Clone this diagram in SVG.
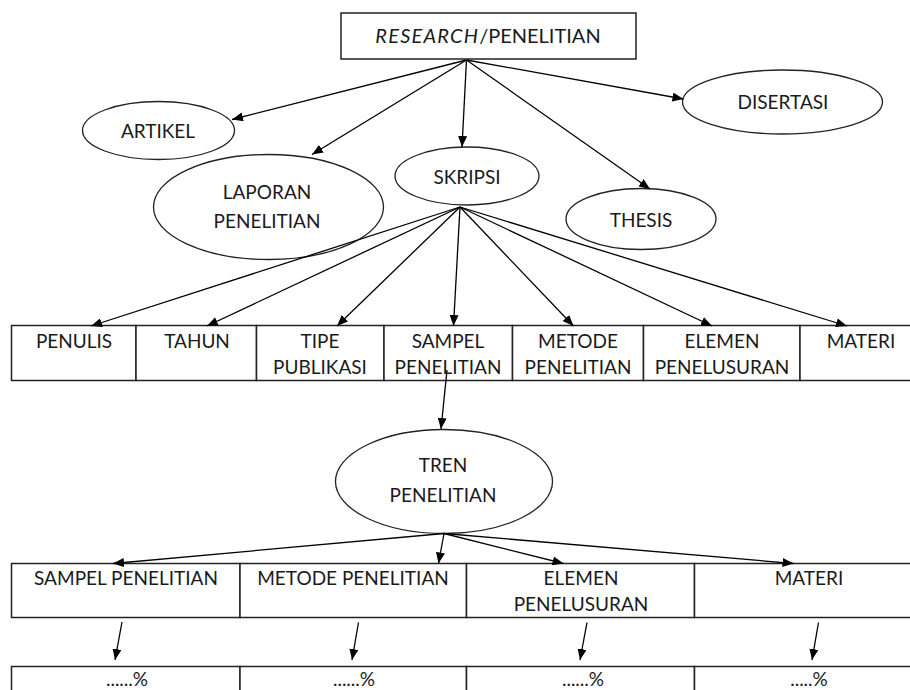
<svg xmlns="http://www.w3.org/2000/svg" width="910" height="690" viewBox="0 0 910 690">
<defs>
<marker id="ah" markerUnits="userSpaceOnUse" markerWidth="11" markerHeight="9" refX="11" refY="4.5" orient="auto">
<path d="M0,0 L11,4.5 L0,9 z" fill="#000"/>
</marker>
<style>
.box{fill:#fff;stroke:#222;stroke-width:1.5}
.ell{fill:#fff;stroke:#222;stroke-width:1.3}
.t{font-family:Lato,"Liberation Sans",sans-serif;font-size:19px;fill:#1a1a1a;text-anchor:middle}
.c line{stroke:#000;stroke-width:1.3;marker-end:url(#ah)}
</style>
</defs>
<rect width="910" height="690" fill="#fff"/>

<g id="research">
<rect class="box" x="341" y="13" width="295" height="46"/>
<text class="t" x="488" y="43" style="font-size:20px"><tspan font-style="italic" letter-spacing="1.2">RESEARCH</tspan>/PENELITIAN</text>
</g>
<g id="artikel">
<ellipse class="ell" cx="158.5" cy="130.5" rx="76" ry="29"/>
<text class="t" x="158" y="138">ARTIKEL</text>
</g>
<g id="laporan">
<ellipse class="ell" cx="268.5" cy="207" rx="115" ry="52.5"/>
<text class="t" x="267" y="199">LAPORAN</text>
<text class="t" x="267" y="228">PENELITIAN</text>
</g>
<g id="skripsi">
<ellipse class="ell" cx="467" cy="176" rx="72" ry="29"/>
<text class="t" x="467" y="184">SKRIPSI</text>
</g>
<g id="disertasi">
<ellipse class="ell" cx="782.5" cy="102" rx="100" ry="32"/>
<text class="t" x="783" y="109">DISERTASI</text>
</g>
<g id="thesis">
<ellipse class="ell" cx="641" cy="219" rx="75" ry="30.5"/>
<text class="t" x="641" y="227">THESIS</text>
</g>

<g id="penulis"><rect class="box" x="11.5" y="325.5" width="124.5" height="55"/><text class="t" x="74" y="348">PENULIS</text></g>
<g id="tahun"><rect class="box" x="136" y="325.5" width="120.5" height="55"/><text class="t" x="197" y="348">TAHUN</text></g>
<g id="tipe"><rect class="box" x="256.5" y="325.5" width="127.5" height="55"/><text class="t" x="320" y="348">TIPE</text><text class="t" x="320" y="374">PUBLIKASI</text></g>
<g id="sampel1"><rect class="box" x="384" y="325.5" width="128.5" height="55"/><text class="t" x="448" y="348">SAMPEL</text><text class="t" x="448" y="374">PENELITIAN</text></g>
<g id="metode1"><rect class="box" x="512.5" y="325.5" width="131" height="55"/><text class="t" x="578" y="348">METODE</text><text class="t" x="578" y="374">PENELITIAN</text></g>
<g id="elemen1"><rect class="box" x="643.5" y="325.5" width="156.5" height="55"/><text class="t" x="722" y="348">ELEMEN</text><text class="t" x="722" y="374">PENELUSURAN</text></g>
<g id="materi1"><rect class="box" x="800" y="325.5" width="122" height="55"/><text class="t" x="861" y="348">MATERI</text></g>

<g id="tren">
<ellipse class="ell" cx="444" cy="481.5" rx="108.5" ry="52"/>
<text class="t" x="443" y="472">TREN</text>
<text class="t" x="443" y="502">PENELITIAN</text>
</g>

<g id="sampel2"><rect class="box" x="11.5" y="563.5" width="228.5" height="54"/><text class="t" x="126" y="585">SAMPEL PENELITIAN</text></g>
<g id="metode2"><rect class="box" x="240" y="563.5" width="226.5" height="54"/><text class="t" x="353" y="585">METODE PENELITIAN</text></g>
<g id="elemen2"><rect class="box" x="466.5" y="563.5" width="228" height="54"/><text class="t" x="581" y="585">ELEMEN</text><text class="t" x="581" y="611">PENELUSURAN</text></g>
<g id="materi2"><rect class="box" x="694.5" y="563.5" width="229" height="54"/><text class="t" x="809" y="585">MATERI</text></g>

<g id="pct1"><rect class="box" x="11.5" y="666.5" width="228.5" height="50"/><text class="t" x="127" y="686">......%</text></g>
<g id="pct2"><rect class="box" x="240" y="666.5" width="226.5" height="50"/><text class="t" x="354" y="686">......%</text></g>
<g id="pct3"><rect class="box" x="466.5" y="666.5" width="228" height="50"/><text class="t" x="583" y="686">......%</text></g>
<g id="pct4"><rect class="box" x="694.5" y="666.5" width="229" height="50"/><text class="t" x="809" y="686">.....%</text></g>

<g id="connectors" class="c">
<line x1="466.5" y1="60" x2="232" y2="119.5"/>
<line x1="466.5" y1="60" x2="312" y2="154.5"/>
<line x1="466.5" y1="60" x2="462" y2="147"/>
<line x1="466.5" y1="60" x2="650" y2="189"/>
<line x1="466.5" y1="60" x2="683.5" y2="99"/>

<line x1="460" y1="207" x2="91" y2="326"/>
<line x1="460" y1="207" x2="207" y2="326"/>
<line x1="460" y1="207" x2="337" y2="326"/>
<line x1="460" y1="207" x2="453.5" y2="326"/>
<line x1="460" y1="207" x2="573.5" y2="326"/>
<line x1="460" y1="207" x2="712" y2="326"/>
<line x1="460" y1="207" x2="847" y2="326"/>

<line x1="447" y1="370" x2="441" y2="429"/>

<line x1="444" y1="533.5" x2="113" y2="563.5"/>
<line x1="444" y1="533.5" x2="438.5" y2="563.5"/>
<line x1="444" y1="533.5" x2="563.5" y2="563.5"/>
<line x1="444" y1="533.5" x2="793.5" y2="563.5"/>

<line x1="122" y1="622" x2="115" y2="660"/>
<line x1="358.5" y1="622.5" x2="352" y2="660"/>
<line x1="587" y1="622.5" x2="580" y2="660"/>
<line x1="818.5" y1="622.5" x2="812" y2="660"/>
</g>
</svg>
